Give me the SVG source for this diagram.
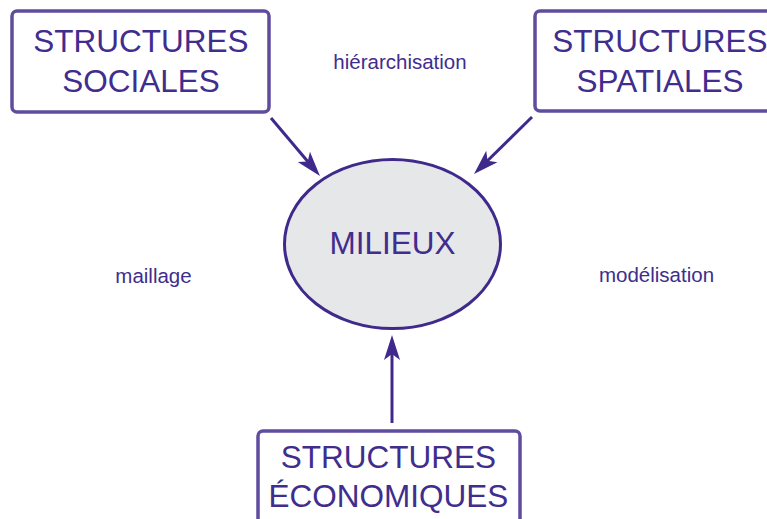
<svg xmlns="http://www.w3.org/2000/svg" width="767" height="519" viewBox="0 0 767 519">
  <style>
    .box { fill: #ffffff; stroke: #5f4c9f; stroke-width: 3.5; }
    .big { font-family: "Liberation Sans", Arial, sans-serif; font-size: 31.5px; fill: #402d8d; text-anchor: middle; }
    .lbl { font-family: "Liberation Sans", Arial, sans-serif; font-size: 20.5px; fill: #402d8d; text-anchor: middle; }
    .conn { stroke: #3f2a8c; stroke-width: 3; fill: none; marker-end: url(#arr); }
  </style>
  <defs>
    <marker id="arr" markerUnits="userSpaceOnUse" viewBox="-27 -10 28 20" markerWidth="28" markerHeight="20" refX="-15" refY="0" orient="auto">
      <path d="M0,0 L-25,-8 L-19,0 L-25,8 Z" fill="#3f2a8c"/>
    </marker>
  </defs>
  <rect width="767" height="519" fill="#ffffff"/>
  <g id="connectors">
    <line class="conn" x1="271" y1="118" x2="310.3" y2="164.5"/>
    <line class="conn" x1="532" y1="117" x2="484.7" y2="163.5"/>
    <line class="conn" x1="392" y1="423" x2="392" y2="350"/>
  </g>
  <g id="milieux">
    <ellipse cx="392.5" cy="244" rx="108" ry="84.5" fill="#e6e7e9" stroke="#3f2a8c" stroke-width="3"/>
    <text class="big" x="392.5" y="254">MILIEUX</text>
  </g>
  <g id="structures-sociales">
    <rect class="box" x="12" y="11" width="257" height="101" rx="5"/>
    <text class="big" x="141" y="52">STRUCTURES</text>
    <text class="big" x="141" y="92">SOCIALES</text>
  </g>
  <g id="structures-spatiales">
    <rect class="box" x="535" y="11" width="257" height="100" rx="5"/>
    <text class="big" x="660" y="52">STRUCTURES</text>
    <text class="big" x="660" y="92">SPATIALES</text>
  </g>
  <g id="structures-economiques">
    <rect class="box" x="258" y="431" width="262" height="110" rx="5"/>
    <text class="big" x="388.5" y="468">STRUCTURES</text>
    <text class="big" x="388.5" y="507">ÉCONOMIQUES</text>
  </g>
  <g id="labels">
    <text class="lbl" x="400" y="69">hiérarchisation</text>
    <text class="lbl" x="153.5" y="283">maillage</text>
    <text class="lbl" x="656.5" y="282">modélisation</text>
  </g>
</svg>
